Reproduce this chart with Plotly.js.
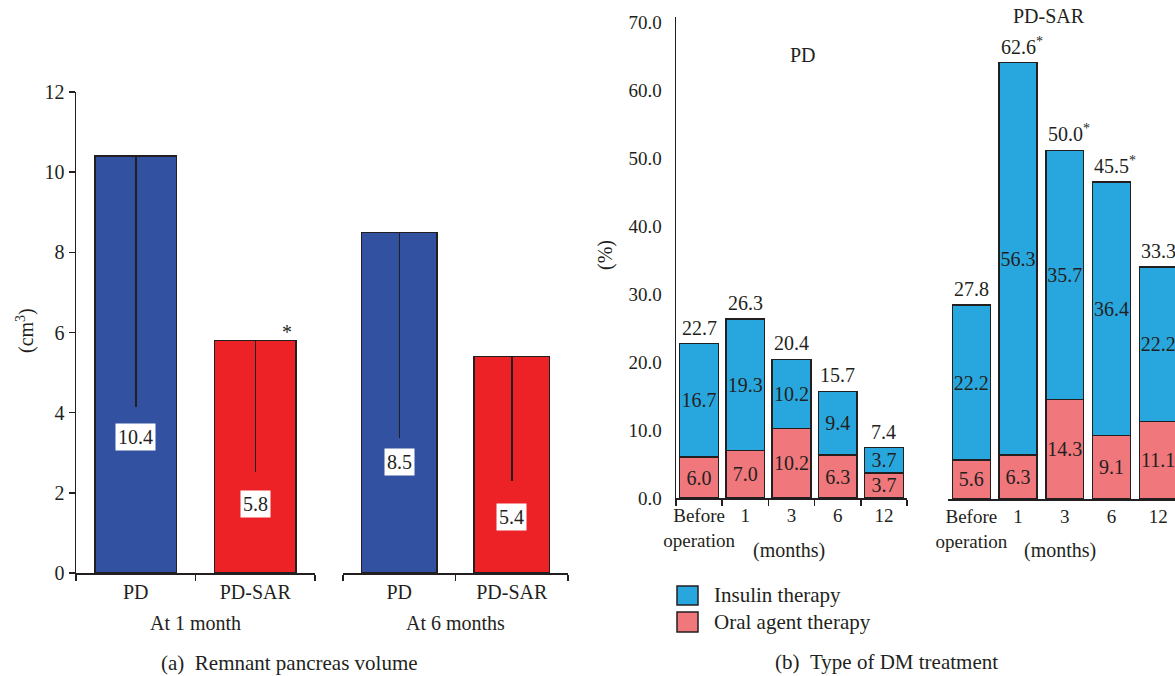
<!DOCTYPE html>
<html>
<head>
<meta charset="utf-8">
<script src="https://cdn.plot.ly/plotly-3.0.1.min.js"></script>
<style>html,body{margin:0;padding:0;background:#fff;}#chart{width:1175px;height:676px;}</style>
</head>
<body>
<div id="chart"></div>
<script>
// ---- data ----
const leftGroups = ['At 1 month', 'At 6 months'];
const leftCats = ['PD', 'PD-SAR'];
const vol1 = [10.4, 5.8];
const vol6 = [8.5, 5.4];
const volErrMinus1 = [6.25, 3.28];
const volErrMinus6 = [5.13, 3.1];
const vol1Star = [false, true];

const rightCats = ['Before<br>operation', '1', '3', '6', '12'];
const pdOral = [6.0, 7.0, 10.2, 6.3, 3.7];
const pdInsulin = [16.7, 19.3, 10.2, 9.4, 3.7];
const pdTotal = [22.7, 26.3, 20.4, 15.7, 7.4];
const pdStar = [false, false, false, false, false];
const sarOral = [5.6, 6.3, 14.3, 9.1, 11.1];
const sarInsulin = [22.2, 56.3, 35.7, 36.4, 22.2];
const sarTotal = [27.8, 62.6, 50.0, 45.5, 33.3];
const sarStar = [false, true, true, true, false];
const seriesNames = ['Insulin therapy', 'Oral agent therapy'];

// ---- styles / layout helpers ----
const W = 1175, H = 676;
const px = v => v / W;
const py = v => 1 - v / H;
const FONT = 'Liberation Serif, Times New Roman, serif';
const INK = '#231f20';
const blueL = '#3351a1', redL = '#ed2226';
const blueR = '#28a7df', pinkR = '#f0777b';
const outline = {color: INK, width: 1.5};
const labelPos1 = [3.4, 1.72];
const labelPos6 = [2.77, 1.4];

const fmt = v => v.toFixed(1);

const traces = [
  {type: 'bar', x: leftCats, y: vol1, xaxis: 'x', yaxis: 'y', width: 0.68,
   marker: {color: [blueL, redL], line: outline},
   error_y: {type: 'data', symmetric: false, array: [0, 0], arrayminus: volErrMinus1, width: 0, thickness: 1.5, color: INK},
   hoverinfo: 'skip', showlegend: false},
  {type: 'bar', x: leftCats, y: vol6, xaxis: 'x2', yaxis: 'y', width: 0.67,
   marker: {color: [blueL, redL], line: outline},
   error_y: {type: 'data', symmetric: false, array: [0, 0], arrayminus: volErrMinus6, width: 0, thickness: 1.5, color: INK},
   hoverinfo: 'skip', showlegend: false}
];

function stackPair(oral, insulin, xa, ya, w) {
  const common = {type: 'bar', x: rightCats, xaxis: xa, yaxis: ya, width: w,
    textposition: 'inside', insidetextanchor: 'middle', constraintext: 'none', textangle: 0,
    insidetextfont: {family: FONT, size: 20, color: INK}, hoverinfo: 'skip', showlegend: false};
  return [
    Object.assign({}, common, {y: oral, name: seriesNames[1], text: oral.map(fmt), marker: {color: pinkR, line: outline}}),
    Object.assign({}, common, {y: insulin, name: seriesNames[0], text: insulin.map(fmt), marker: {color: blueR, line: outline}})
  ];
}
traces.push(...stackPair(pdOral, pdInsulin, 'x3', 'y3', 0.84));
traces.push(...stackPair(sarOral, sarInsulin, 'x4', 'y4', 0.81));

const annotations = [];
const F20 = {family: FONT, size: 20, color: INK};
const F21 = {family: FONT, size: 21, color: INK};
// left value labels
leftCats.forEach((c, i) => {
  annotations.push({xref: 'x', yref: 'y', x: i, y: labelPos1[i], text: fmt(vol1[i]), showarrow: false,
    xanchor: 'center', yanchor: 'middle', bgcolor: '#ffffff', borderpad: 2, font: F20});
  annotations.push({xref: 'x2', yref: 'y', x: i, y: labelPos6[i], text: fmt(vol6[i]), showarrow: false,
    xanchor: 'center', yanchor: 'middle', bgcolor: '#ffffff', borderpad: 2, font: F20});
  if (vol1Star[i]) annotations.push({xref: 'x', yref: 'y', x: i, y: vol1[i], text: '*', showarrow: false,
    xanchor: 'center', xshift: 32, yanchor: 'bottom', yshift: -4, font: F20});
});
// group labels
leftGroups.forEach((g, i) => {
  annotations.push({xref: i === 0 ? 'x domain' : 'x2 domain', yref: 'paper', x: 0.5, y: py(623), text: g,
    xanchor: 'center', yanchor: 'middle', showarrow: false, font: F20});
});
// totals
function totals(tot, star, xa, ya) {
  rightCats.forEach((c, i) => {
    annotations.push({xref: xa, yref: ya, x: i, y: tot[i], xanchor: 'center', yanchor: 'bottom', yshift: 3,
      xshift: star[i] ? 4 : 0,
      text: fmt(tot[i]) + (star[i] ? '<sup>*</sup>' : ''), showarrow: false, font: F20});
  });
}
totals(pdTotal, pdStar, 'x3', 'y3');
totals(sarTotal, sarStar, 'x4', 'y4');

const textAnn = (x, y, text, extra) => Object.assign({xref: 'paper', yref: 'paper', x: px(x), y: py(y), text: text,
  xanchor: 'center', yanchor: 'middle', showarrow: false, font: F20}, extra || {});
annotations.push(textAnn(25, 331, '(cm<sup>3</sup>)', {textangle: -90}));
annotations.push(textAnn(605, 255, '(%)', {textangle: -90}));
annotations.push(textAnn(803, 55, 'PD'));
annotations.push(textAnn(1049, 16, 'PD-SAR'));
annotations.push(textAnn(789, 550, '(months)'));
annotations.push(textAnn(1060, 550, '(months)'));
annotations.push(textAnn(712, 595, seriesNames[0], {xanchor: 'left', font: F21}));
annotations.push(textAnn(712, 622, seriesNames[1], {xanchor: 'left', font: F21}));
annotations.push(textAnn(289, 663, '(a)&nbsp;&nbsp;Remnant pancreas volume', {font: F21}));
annotations.push(textAnn(886, 662, '(b)&nbsp;&nbsp;Type of DM treatment', {font: F21}));

const shapes = [
  {type: 'rect', xref: 'paper', yref: 'paper', x0: px(677), x1: px(698), y0: py(605), y1: py(586), fillcolor: blueR, line: outline},
  {type: 'rect', xref: 'paper', yref: 'paper', x0: px(677), x1: px(698), y0: py(632), y1: py(612), fillcolor: pinkR, line: outline}
];

const catAxis = (dom, anchor, cats, rng, fs, ticks) => ({
  domain: dom, anchor: anchor, type: 'category', categoryorder: 'array', categoryarray: cats,
  range: rng, tickson: 'boundaries', ticks: ticks ? 'outside' : '', ticklen: 6, tickwidth: 1.5, tickcolor: INK,
  tickangle: 0, showline: true, linecolor: INK, linewidth: 1.5, showgrid: false, zeroline: false, fixedrange: true,
  tickfont: {family: FONT, size: fs, color: INK}
});

const layout = {
  width: W, height: H, margin: {l: 0, r: 0, t: 0, b: 0},
  paper_bgcolor: '#ffffff', plot_bgcolor: 'rgba(0,0,0,0)',
  barmode: 'stack', showlegend: false,
  font: {family: FONT, color: INK},
  xaxis: catAxis([px(76), px(315)], 'y', leftCats, [-0.5, 1.5], 20, true),
  xaxis2: catAxis([px(343), px(568)], 'y', leftCats, [-0.5, 1.5], 20, true),
  yaxis: {domain: [py(573), py(92)], anchor: 'x', range: [0, 12], dtick: 2, ticks: 'outside', ticklen: 6,
    tickwidth: 1.5, tickcolor: INK, showline: true, linecolor: INK, linewidth: 1.5, showgrid: false, zeroline: false,
    tickfont: {family: FONT, size: 20, color: INK}},
  xaxis3: catAxis([px(676), px(907)], 'y3', rightCats, [-0.5, 4.5], 19, true),
  yaxis3: {domain: [py(498), py(17)], anchor: 'x3', range: [0, 70.74], tickvals: [0, 10, 20, 30, 40, 50, 60, 70],
    tickformat: '.1f', ticks: 'outside', ticklen: 9, tickcolor: 'rgba(0,0,0,0)', showline: true, linecolor: INK,
    linewidth: 1.5, showgrid: false, zeroline: false, tickfont: {family: FONT, size: 19, color: INK}},
  xaxis4: catAxis([px(948), 1], 'y4', rightCats, [-0.5, 4.36], 19, false),
  yaxis4: {domain: [py(499), py(17)], anchor: 'x4', range: [0, 69.15], visible: false, showgrid: false, zeroline: false},
  annotations: annotations,
  shapes: shapes
};

Plotly.newPlot('chart', traces, layout, {staticPlot: true, displayModeBar: false});
</script>
</body>
</html>
